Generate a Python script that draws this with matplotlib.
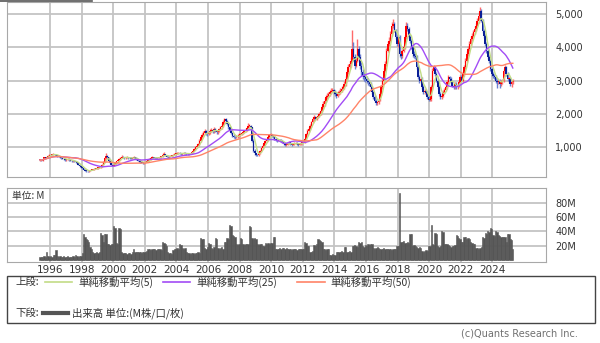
import numpy as np
import pandas as pd
import matplotlib
matplotlib.use("Agg")
import matplotlib.pyplot as plt
from matplotlib.patches import Rectangle
from matplotlib.lines import Line2D

# monthly candles, first month = May 1995
start_year = 1995
start_month = 5

close = [
    620, 600, 650, 700, 680, 720, 750, 760,
    780, 790, 800, 770, 760, 740, 720, 700, 680, 660, 640, 620,
    640, 650, 620, 600, 580, 600, 580, 560, 520, 480, 440, 420,
    380, 330, 300, 290, 280, 300, 320, 330, 340, 350, 360, 380,
    380, 400, 440, 470, 560, 680, 740, 700, 600, 520, 470, 450,
    480, 520, 580, 620, 650, 690, 720, 700, 680, 690, 700, 680,
    670, 660, 690, 700, 680, 640, 600, 580, 560, 540, 530, 540,
    560, 590, 620, 650, 680, 700, 690, 680, 670, 690, 700, 710,
    720, 780, 800, 750, 720, 700, 720, 740, 760, 780, 800, 810,
    820, 830, 810, 800, 820, 830, 820, 800, 790, 810, 820, 850,
    900, 950, 1010, 1050, 1100, 1200, 1300, 1380, 1430, 1480, 1420, 1400,
    1450, 1500, 1520, 1480, 1550, 1500, 1450, 1480, 1550, 1600, 1650, 1750,
    1850, 1800, 1700, 1600, 1500, 1420, 1350, 1310, 1300, 1320, 1350, 1380,
    1400, 1420, 1450, 1480, 1520, 1570, 1650, 1650, 1600, 1200, 900, 820,
    780, 760, 820, 900, 980, 1050, 1130, 1180, 1220, 1300, 1370, 1380,
    1350, 1300, 1250, 1220, 1200, 1220, 1210, 1180, 1150, 1100, 1070, 1080,
    1120, 1150, 1100, 1080, 1100, 1120, 1130, 1100, 1080, 1100, 1120, 1150,
    1150, 1250, 1400, 1500, 1550, 1650, 1750, 1850, 1900, 1850, 1900, 1950,
    2000, 2100, 2200, 2300, 2400, 2500, 2550, 2600, 2650, 2700, 2720, 2650,
    2600, 2550, 2600, 2650, 2700, 2750, 2800, 2900, 3050, 3250, 3400, 3500,
    3600, 3950, 3700, 3450, 3600, 3950, 3700, 3450, 3250, 3150, 3100, 3050,
    3000, 2950, 2900, 2800, 2650, 2500, 2400, 2330, 2350, 2420, 2600, 2800,
    3000, 3300, 3500, 3900, 4100, 4200, 4400, 4650, 4700, 4500, 4300, 4100,
    4300, 3800, 3750, 3900, 4000, 4300, 4650, 4550, 4300, 4200, 4000, 3800,
    3750, 3700, 3400, 3100, 3000, 3050, 2800, 2650, 2700, 2630, 2500, 2420,
    2450, 2800, 3300, 3400, 3200, 3000, 2800, 2600, 2500, 2550, 2650, 2720,
    2800, 2950, 3100, 3050, 2950, 2850, 2800, 2900, 2800, 2850, 2950, 3100,
    3000, 3200, 3400, 3600, 3800, 3950, 4100, 4250, 4350, 4450, 4550, 4650,
    4800, 4950, 5100, 4800, 4500, 4350, 4100, 3900, 3700, 3600, 3350, 3200,
    3150, 3100, 3000, 2950, 3000, 2900, 2950, 3000, 3300, 3400, 3200, 3050,
    3050, 2900, 2950, 2980,
]

high = [
    640, 640, 660, 720, 720, 740, 770, 790,
    800, 810, 830, 810, 790, 770, 750, 730, 710, 700, 680, 660,
    660, 670, 670, 640, 620, 620, 620, 590, 570, 530, 490, 450,
    430, 390, 340, 310, 300, 310, 330, 350, 360, 370, 380, 400,
    400, 420, 460, 500, 590, 720, 830, 760, 710, 620, 540, 490,
    500, 540, 600, 650, 680, 720, 760, 740, 720, 710, 730, 720,
    710, 700, 710, 730, 720, 700, 660, 620, 600, 580, 560, 560,
    580, 610, 640, 670, 700, 730, 720, 710, 700, 710, 720, 730,
    750, 820, 860, 810, 770, 740, 740, 760, 780, 800, 830, 840,
    850, 860, 850, 830, 840, 860, 850, 840, 820, 830, 840, 880,
    930, 980, 1040, 1090, 1140, 1240, 1360, 1440, 1500, 1550, 1510, 1460,
    1500, 1560, 1580, 1550, 1600, 1580, 1530, 1520, 1590, 1650, 1720, 1820,
    1890, 1880, 1830, 1730, 1640, 1540, 1450, 1390, 1350, 1360, 1390, 1420,
    1440, 1460, 1490, 1520, 1570, 1620, 1730, 1700, 1680, 1620, 1240, 940,
    840, 800, 850, 930, 1010, 1090, 1170, 1220, 1260, 1340, 1410, 1420,
    1410, 1380, 1330, 1280, 1250, 1250, 1250, 1240, 1210, 1170, 1120, 1110,
    1150, 1180, 1170, 1120, 1120, 1150, 1160, 1150, 1120, 1120, 1140, 1180,
    1180, 1290, 1440, 1560, 1600, 1700, 1800, 1910, 1960, 1940, 1950, 2000,
    2060, 2160, 2270, 2380, 2480, 2580, 2620, 2670, 2720, 2770, 2790, 2760,
    2720, 2660, 2680, 2730, 2780, 2830, 2880, 2980, 3130, 3330, 3500, 3600,
    3700, 4520, 4150, 3800, 3700, 4250, 4050, 3800, 3550, 3350, 3250, 3200,
    3150, 3080, 3020, 2960, 2850, 2700, 2560, 2440, 2400, 2480, 2660, 2870,
    3070, 3380, 3580, 3980, 4180, 4300, 4500, 4760, 4850, 4760, 4560, 4360,
    4400, 4380, 3900, 3960, 4060, 4380, 4750, 4720, 4600, 4380, 4260, 4060,
    3880, 3820, 3760, 3460, 3160, 3120, 3100, 2860, 2760, 2760, 2680, 2560,
    2520, 2870, 3380, 3480, 3450, 3260, 3060, 2860, 2660, 2610, 2710, 2790,
    2860, 3020, 3180, 3150, 3110, 3000, 2900, 2960, 2950, 2900, 3010, 3170,
    3180, 3290, 3480, 3690, 3890, 4040, 4180, 4330, 4430, 4530, 4630, 4740,
    4890, 5050, 5210, 5150, 4860, 4560, 4400, 4160, 3960, 3760, 3660, 3410,
    3260, 3210, 3160, 3060, 3060, 3060, 3010, 3060, 3360, 3460, 3430, 3250,
    3110, 3100, 3010, 3040,
]

low = [
    580, 590, 590, 640, 670, 670, 710, 730,
    740, 760, 770, 750, 740, 720, 700, 680, 660, 640, 620, 600,
    600, 620, 600, 580, 560, 560, 560, 540, 500, 460, 420, 390,
    360, 310, 280, 270, 260, 270, 290, 310, 320, 330, 340, 350,
    360, 370, 390, 420, 460, 550, 660, 680, 590, 510, 460, 430,
    440, 470, 510, 560, 600, 630, 670, 680, 660, 660, 670, 660,
    650, 640, 640, 670, 660, 620, 580, 560, 540, 520, 510, 510,
    520, 550, 570, 600, 630, 660, 670, 660, 650, 650, 670, 680,
    690, 700, 760, 740, 700, 680, 690, 700, 720, 740, 760, 780,
    790, 800, 790, 780, 780, 800, 800, 780, 770, 770, 790, 800,
    830, 880, 930, 980, 1020, 1080, 1170, 1270, 1340, 1390, 1380, 1350,
    1360, 1410, 1460, 1440, 1440, 1460, 1400, 1410, 1450, 1510, 1560, 1620,
    1700, 1760, 1660, 1560, 1470, 1390, 1320, 1270, 1260, 1270, 1290, 1320,
    1340, 1370, 1390, 1420, 1450, 1490, 1540, 1600, 1560, 1150, 860, 780,
    750, 730, 740, 800, 870, 950, 1020, 1100, 1150, 1190, 1270, 1330,
    1320, 1270, 1220, 1190, 1170, 1180, 1180, 1150, 1120, 1070, 1040, 1040,
    1060, 1100, 1080, 1050, 1060, 1080, 1100, 1080, 1050, 1060, 1080, 1100,
    1120, 1130, 1230, 1370, 1470, 1520, 1610, 1720, 1800, 1810, 1820, 1870,
    1900, 1960, 2060, 2150, 2250, 2350, 2450, 2500, 2550, 2600, 2650, 2600,
    2540, 2490, 2510, 2560, 2610, 2660, 2710, 2760, 2850, 3000, 3200, 3350,
    3400, 3550, 3600, 3350, 3400, 3550, 3600, 3350, 3150, 3050, 3000, 2950,
    2920, 2880, 2830, 2740, 2600, 2440, 2350, 2270, 2280, 2310, 2380, 2560,
    2750, 2950, 3250, 3450, 3850, 4040, 4150, 4350, 4580, 4450, 4250, 4050,
    4000, 3700, 3650, 3680, 3850, 3950, 4250, 4480, 4250, 4120, 3940, 3720,
    3680, 3640, 3340, 3040, 2940, 2950, 2740, 2600, 2600, 2570, 2440, 2380,
    2380, 2400, 2750, 3250, 3150, 2950, 2750, 2550, 2450, 2440, 2500, 2600,
    2680, 2760, 2900, 3000, 2900, 2800, 2750, 2760, 2750, 2750, 2800, 2900,
    2950, 2950, 3150, 3350, 3550, 3750, 3900, 4050, 4200, 4300, 4400, 4500,
    4640, 4740, 4900, 4750, 4440, 4290, 4040, 3840, 3640, 3540, 3290, 3140,
    3090, 3040, 2940, 2770, 2890, 2780, 2840, 2900, 2950, 3240, 3140, 2990,
    2940, 2850, 2800, 2900,
]

# monthly volume, millions
volume = [
    5, 4, 5, 6, 5, 11, 6, 5,
    6, 5, 7, 8, 14, 6, 5, 6, 5, 5, 6, 5,
    5, 6, 5, 4, 5, 6, 5, 7, 6, 5, 6, 6,
    10, 36, 32, 30, 28, 25, 18, 15, 12, 10, 10, 11,
    10, 12, 38, 35, 26, 37, 36, 22, 22, 21, 22, 23,
    47, 45, 24, 22, 45, 44, 12, 10, 10, 10, 9, 10,
    10, 9, 11, 15, 12, 11, 11, 12, 11, 10, 12, 11,
    12, 13, 15, 15, 14, 16, 15, 15, 14, 15, 16, 15,
    14, 26, 24, 22, 20, 12, 10, 10, 9, 14, 15, 16,
    17, 15, 22, 21, 17, 16, 17, 12, 10, 10, 9, 10,
    10, 9, 10, 10, 11, 10, 31, 30, 29, 17, 16, 18,
    24, 23, 17, 16, 18, 31, 30, 17, 16, 17, 18, 16,
    26, 25, 31, 30, 49, 48, 35, 34, 33, 22, 21, 22,
    31, 30, 22, 21, 22, 23, 22, 47, 46, 31, 30, 31,
    30, 22, 21, 23, 22, 20, 20, 24, 23, 24, 22, 24,
    24, 33, 32, 15, 15, 16, 17, 16, 17, 17, 16, 17,
    15, 16, 15, 14, 15, 16, 15, 14, 15, 15, 16, 15,
    15, 25, 24, 20, 20, 12, 12, 13, 21, 20, 22, 29,
    28, 27, 26, 15, 15, 14, 15, 15, 8, 8, 9, 8,
    8, 12, 12, 11, 12, 13, 12, 18, 19, 12, 12, 13,
    12, 20, 20, 21, 20, 19, 25, 24, 25, 20, 19, 21,
    20, 22, 21, 22, 23, 17, 16, 17, 18, 17, 16, 16,
    16, 17, 16, 15, 15, 16, 15, 14, 15, 15, 15, 20,
    20, 94, 26, 25, 27, 24, 24, 25, 24, 37, 36, 20,
    21, 20, 19, 17, 18, 17, 13, 12, 13, 14, 13, 20,
    20, 49, 22, 21, 38, 37, 20, 19, 20, 40, 39, 22,
    22, 23, 21, 20, 19, 20, 20, 21, 35, 34, 31, 30,
    26, 25, 33, 32, 30, 31, 29, 25, 24, 22, 22, 17,
    17, 16, 17, 18, 32, 31, 38, 37, 40, 39, 45, 44,
    35, 34, 40, 39, 35, 34, 33, 33, 32, 33, 26, 37,
    36, 29, 28, 15,
]

year_ticks = list(range(1996, 2025, 2))
price_ticks = [1000, 2000, 3000, 4000, 5000]
vol_ticks = [20, 40, 60, 80]
ma_windows = [5, 25, 50]
ma_colors = ["#c2dc86", "#a24cf5", "#ff8468"]
ma_labels = ["単純移動平均(5)", "単純移動平均(25)", "単純移動平均(50)"]

n = len(close)
t = start_year + (start_month - 1 + np.arange(n)) / 12 + 1 / 24
c = np.array(close, dtype=float)
o = np.r_[c[0], c[:-1]]
hi = np.array(high, dtype=float)
lo = np.array(low, dtype=float)
up = c >= o

W, H = 600, 343
def fx(px):
    return px / W
def fy(py):
    return 1 - py / H

fig = plt.figure(figsize=(6, 3.43), dpi=100)
grid_c = "#c4c4c4"
spine_c = "#a8a8a8"
txt_c = "#333333"
jp = ["Noto Sans CJK JP", "DejaVu Sans"]

# thin dark strip at the very top left
fig.add_artist(Line2D([0, fx(92)], [fy(0.6), fy(0.6)], color="#555555", lw=1.2,
                      transform=fig.transFigure))

# ---- price panel
ax = fig.add_axes([fx(7), fy(177.3), fx(545.5) - fx(7), fy(1.5) - fy(177.3)])
ax.vlines(t[up], lo[up], hi[up], color="#ff6a6a", lw=1.0, zorder=2)
ax.vlines(t[~up], lo[~up], hi[~up], color="#6a7fd0", lw=1.0, zorder=2)
body = np.maximum(np.abs(c - o), 20)
ax.bar(t[up], body[up], bottom=np.minimum(o, c)[up], width=0.1,
       color="#ff0000", lw=0, zorder=3)
ax.bar(t[~up], body[~up], bottom=np.minimum(o, c)[~up], width=0.1,
       color="#0a1e96", lw=0, zorder=3)
s = pd.Series(c)
for w, col in zip(ma_windows, ma_colors):
    ax.plot(t, s.rolling(w, min_periods=1).mean(), color=col, lw=1.0, zorder=4)

ax.set_xlim(1993.28, 2027.36)
ax.set_ylim(100, 5370)
ax.set_xticks(year_ticks)
ax.set_yticks(price_ticks)
ax.set_yticklabels([f"{v:,}" for v in price_ticks])
ax.yaxis.tick_right()
ax.tick_params(axis="y", length=0, pad=7, labelsize=7, labelcolor=txt_c)
ax.tick_params(axis="x", length=0, labelbottom=False)
ax.grid(True, color=grid_c, lw=1.3, zorder=0)
ax.set_axisbelow(True)
for sp in ax.spines.values():
    sp.set_color(spine_c)

# ---- volume panel
axv = fig.add_axes([fx(7), fy(261.7), fx(545.5) - fx(7), fy(188.3) - fy(261.7)])
axv.bar(t, volume, width=1 / 12, color="#555555", edgecolor="#555555", lw=0.4,
        zorder=3)
axv.set_xlim(1993.28, 2027.36)
axv.set_ylim(-2, 100)
axv.set_xticks(year_ticks)
axv.set_xticklabels([str(y) for y in year_ticks])
axv.set_yticks(vol_ticks)
axv.set_yticklabels([f"{v}M" for v in vol_ticks])
axv.yaxis.tick_right()
axv.tick_params(axis="y", length=0, pad=7, labelsize=7, labelcolor=txt_c)
axv.tick_params(axis="x", length=0, pad=2.5, labelsize=7.5, labelcolor=txt_c)
axv.grid(True, color=grid_c, lw=1.3, zorder=0)
axv.set_axisbelow(True)
for sp in axv.spines.values():
    sp.set_color(spine_c)
axv.text(0.010, 0.96, "単位: M", transform=axv.transAxes, ha="left", va="top",
         fontsize=7, color=txt_c, family=jp)

# ---- legend box
fig.add_artist(Rectangle((fx(7), fy(323)), fx(595) - fx(7), fy(276) - fy(323),
                         transform=fig.transFigure, fill=False,
                         edgecolor="#444444", lw=1.0))
fig.text(fx(15), fy(282), "上段:", fontsize=7.5, color=txt_c, va="center", family=jp)
line_x = [(45, 72, 78), (163, 190, 196), (297, 325, 330)]
for (x0, x1, xt), col, lab in zip(line_x, ma_colors, ma_labels):
    fig.add_artist(Line2D([fx(x0), fx(x1)], [fy(282), fy(282)], color=col,
                          lw=1.2, transform=fig.transFigure))
    fig.text(fx(xt), fy(282), lab, fontsize=7.5, color=txt_c, va="center", family=jp)
fig.text(fx(15), fy(313), "下段:", fontsize=7.5, color=txt_c, va="center", family=jp)
fig.add_artist(Line2D([fx(43), fx(68)], [fy(313), fy(313)], color="#555555",
                      lw=3, transform=fig.transFigure))
fig.text(fx(72), fy(313), "出来高 単位:(M株/口/枚)", fontsize=7.5, color=txt_c,
         va="center", family=jp)

fig.text(fx(578), fy(334), "(c)Quants Research Inc.", fontsize=7, color="#707070",
         ha="right", va="center")

fig.savefig("out.png", dpi=100)
